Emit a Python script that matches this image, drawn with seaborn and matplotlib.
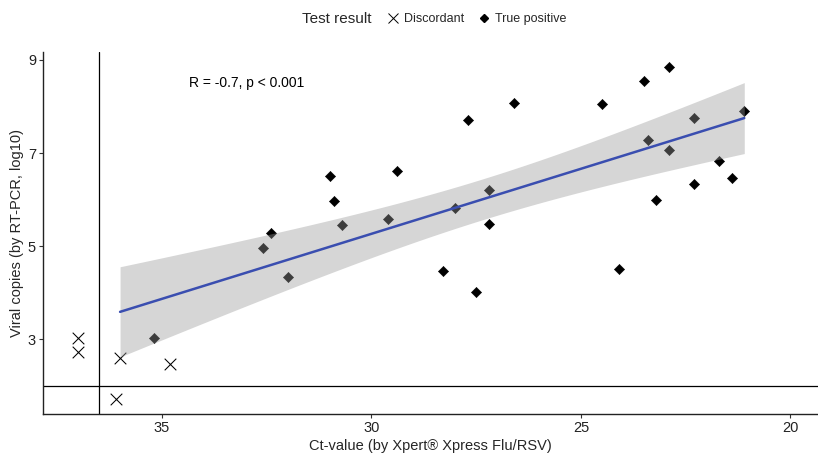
import numpy as np
import pandas as pd
import matplotlib
matplotlib.use("Agg")
import matplotlib.pyplot as plt
from matplotlib.lines import Line2D
import seaborn as sns

# Ct-values and viral loads per sample
ct_discordant = [37.0, 37.0, 36.0, 34.8, 36.1]
vc_discordant = [3.03, 2.72, 2.60, 2.46, 1.72]

ct_true_positive = [35.2, 32.6, 32.0, 32.4, 31.0, 30.9, 30.7, 29.6, 29.4, 28.3,
                    28.0, 27.7, 27.5, 27.2, 27.2, 26.6, 24.5, 24.1, 23.5, 23.4,
                    23.2, 22.9, 22.9, 22.3, 22.3, 21.7, 21.4, 21.1]
vc_true_positive = [3.03, 4.97, 4.34, 5.28, 6.51, 5.97, 5.46, 5.59, 6.62, 4.46,
                    5.82, 7.70, 4.02, 6.21, 5.48, 8.07, 8.05, 4.50, 8.55, 7.28,
                    6.00, 8.84, 7.07, 7.75, 6.34, 6.83, 6.47, 7.91]

ct_cutoff = 36.5
vc_cutoff = 2.0
x_ticks = [35, 30, 25, 20]
y_ticks = [3, 5, 7, 9]
stat_label = "R = -0.7, p < 0.001"

df = pd.DataFrame({
    "ct": ct_discordant + ct_true_positive,
    "copies": vc_discordant + vc_true_positive,
    "result": ["Discordant"] * len(ct_discordant) + ["True positive"] * len(ct_true_positive),
})
fit_df = df[(df["ct"] < ct_cutoff) & (df["copies"] > vc_cutoff)]

sns.set_theme(style="ticks")
plt.rcParams["font.family"] = ["Liberation Sans", "DejaVu Sans"]

fig = plt.figure(figsize=(8.18, 4.53), dpi=100)
ax = fig.add_axes([43 / 818, 39 / 453, 775 / 818, 362 / 453])

# points
tp = df[df["result"] == "True positive"]
dc = df[df["result"] == "Discordant"]
sns.scatterplot(data=tp, x="ct", y="copies", marker="D", s=27, color="black",
                edgecolor="black", linewidth=0.4, ax=ax, legend=False, zorder=2)
sns.scatterplot(data=dc, x="ct", y="copies", marker="x", s=70, color="black",
                linewidth=0.75, ax=ax, legend=False, zorder=2)

# 95% confidence band of the linear fit (t-based), drawn over the points
x = fit_df["ct"].to_numpy()
y = fit_df["copies"].to_numpy()
n = len(x)
slope, intercept = np.polyfit(x, y, 1)
resid = y - (slope * x + intercept)
s_err = np.sqrt(np.sum(resid ** 2) / (n - 2))
grid = np.linspace(x.min(), x.max(), 80)
t_crit = 2.045  # t(0.975, df = n - 2) for n = 31
se_fit = s_err * np.sqrt(1 / n + (grid - x.mean()) ** 2 / np.sum((x - x.mean()) ** 2))
fit = slope * grid + intercept
ax.fill_between(grid, fit - t_crit * se_fit, fit + t_crit * se_fit,
                color="#999999", alpha=0.4, lw=0, zorder=3)

# fitted line
sns.regplot(data=fit_df, x="ct", y="copies", scatter=False, ci=None,
            truncate=True, ax=ax, color="#3A4EB0",
            line_kws={"lw": 1.8, "zorder": 4})

ax.axvline(ct_cutoff, color="black", lw=0.9, zorder=1)
ax.axhline(vc_cutoff, color="black", lw=0.9, zorder=1)

ax.text(34.36, 8.51, stat_label, ha="left", va="center", fontsize=10, color="black")

ax.set_xlim(37.84, 19.34)
ax.set_ylim(1.395, 9.17)
ax.set_xticks(x_ticks)
ax.set_yticks(y_ticks)
ax.set_xlabel("Ct-value (by Xpert\u00ae Xpress Flu/RSV)", fontsize=10.5, labelpad=3)
ax.set_ylabel("Viral copies (by RT-PCR, log10)", fontsize=10.5, labelpad=3)
ax.tick_params(axis="both", labelsize=10.5, length=3, width=0.8,
               color="#333333", labelcolor="#222222", pad=2)
for side in ["top", "right"]:
    ax.spines[side].set_visible(False)
for side in ["left", "bottom"]:
    ax.spines[side].set_color("#222222")
    ax.spines[side].set_linewidth(1.0)

# legend across the top
fig.text(372 / 818, 1 - 19 / 453, "Test result", ha="right", va="center", fontsize=11)
handles = [
    Line2D([], [], marker="x", ls="none", color="black", markersize=7, markeredgewidth=0.7),
    Line2D([], [], marker="D", ls="none", color="black", markersize=4.5),
]
fig.legend(handles, ["Discordant", "True positive"], loc="center",
           bbox_to_anchor=(476 / 818, 1 - 19 / 453), ncol=2, frameon=False,
           fontsize=9, handletextpad=0.3, columnspacing=1.0, handlelength=1.2)

fig.savefig("out.png", dpi=100)
